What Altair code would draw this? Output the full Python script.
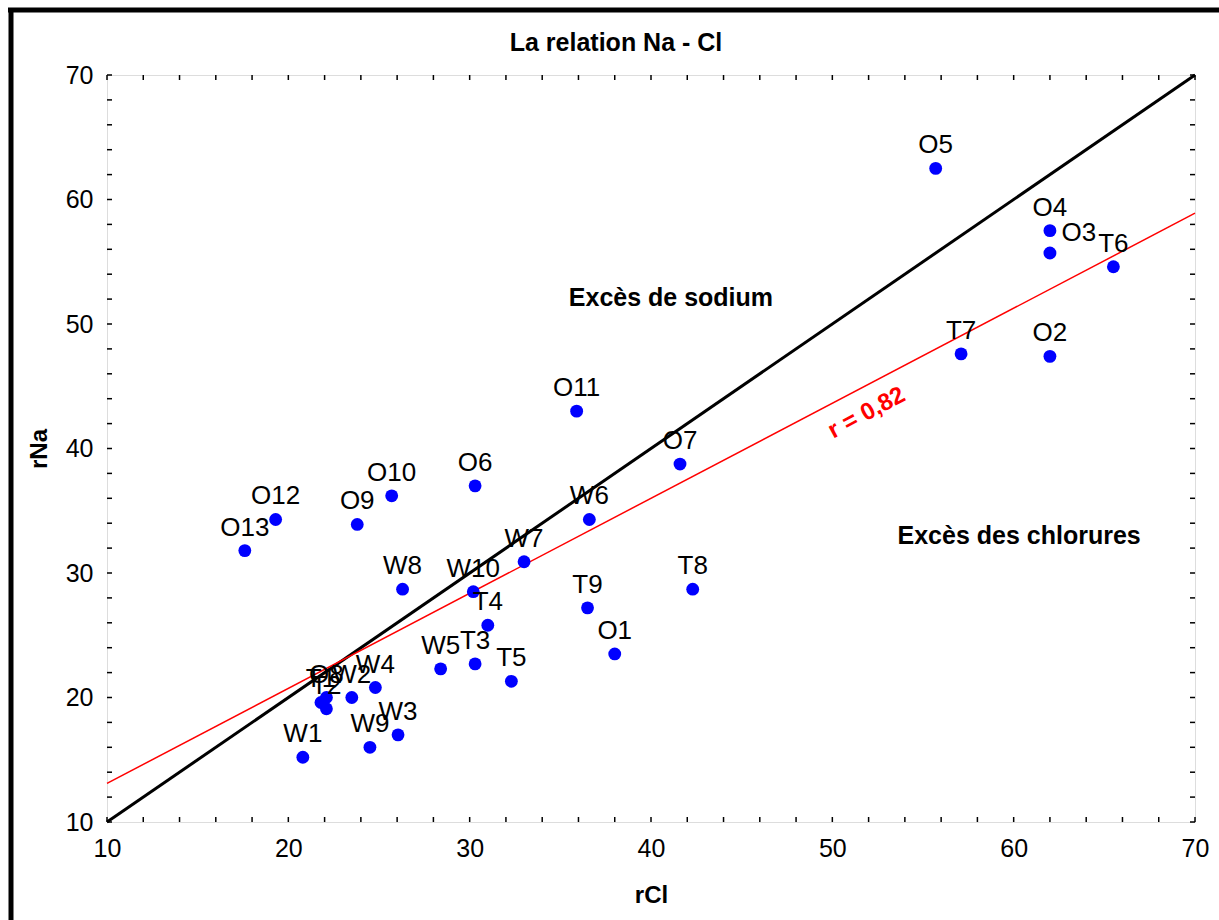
import altair as alt
import pandas as pd

# Sample identifiers and their ionic ratios (meq/l)
names = ["O1", "O2", "O3", "O4", "O5", "O6", "O7", "O8", "O9", "O10", "O11", "O12", "O13",
         "T1", "T2", "T3", "T4", "T5", "T6", "T7", "T8", "T9",
         "W1", "W2", "W3", "W4", "W5", "W6", "W7", "W8", "W9", "W10"]
r_cl = [38.0, 62.0, 62.0, 62.0, 55.7, 30.3, 41.6, 22.1, 23.8, 25.7, 35.9, 19.3, 17.6,
        21.8, 22.1, 30.3, 31.0, 32.3, 65.5, 57.1, 42.3, 36.5,
        20.8, 23.5, 26.05, 24.8, 28.4, 36.6, 33.0, 26.3, 24.5, 30.2]
r_na = [23.5, 47.4, 55.7, 57.5, 62.5, 37.0, 38.75, 20.0, 33.9, 36.2, 43.0, 34.3, 31.8,
        19.6, 19.1, 22.7, 25.8, 21.3, 54.6, 47.6, 28.7, 27.2,
        15.2, 20.0, 17.0, 20.8, 22.3, 34.3, 30.9, 28.7, 16.0, 28.5]

# Reference lines: 1:1 line and fitted regression line (end points)
line_x = [10, 70]
one_to_one_y = [10, 70]
regression_y = [13.1, 58.9]

# Axis range and ticks
axis_min, axis_max = 10, 70
label_values = [10, 20, 30, 40, 50, 60, 70]
minor_values = list(range(10, 71, 2))

W, H = 1088, 747
FONT = "Liberation Sans"

pts = pd.DataFrame({"name": names, "rCl": r_cl, "rNa": r_na})
ref = pd.DataFrame({"x": line_x, "y1": one_to_one_y, "y2": regression_y})
ticks = pd.DataFrame({"v": minor_values})

xs = alt.Scale(domain=[axis_min, axis_max], nice=False, zero=False)
ys = alt.Scale(domain=[axis_min, axis_max], nice=False, zero=False)

x_axis = alt.Axis(values=label_values, tickSize=0, domain=False, grid=False,
                  labelFontSize=25, labelFont=FONT, labelColor="black", labelPadding=14,
                  labelFlush=False,
                  title="rCl", titleFont=FONT, titleFontSize=24, titleFontWeight="bold",
                  titleColor="black", titlePadding=22)
y_axis = alt.Axis(values=label_values, tickSize=0, domain=False, grid=False,
                  labelFontSize=25, labelFont=FONT, labelColor="black", labelPadding=14,
                  labelFlush=False,
                  title="rNa", titleFont=FONT, titleFontSize=24, titleFontWeight="bold",
                  titleColor="black", titlePadding=14)

base_axes = alt.Chart(ref).mark_line(color="black", strokeWidth=3).encode(
    x=alt.X("x:Q", scale=xs, axis=x_axis),
    y=alt.Y("y1:Q", scale=ys, axis=y_axis),
)

regression = alt.Chart(ref).mark_line(color="#ff0000", strokeWidth=1.5).encode(
    x=alt.X("x:Q", scale=xs), y=alt.Y("y2:Q", scale=ys)
)

# Inward-pointing ticks on all four sides
tick_len = 5
t_top = alt.Chart(ticks).mark_rule(color="black", strokeWidth=1.5).encode(
    x=alt.X("v:Q", scale=xs), y=alt.value(0), y2=alt.value(tick_len))
t_bottom = alt.Chart(ticks).mark_rule(color="black", strokeWidth=1.5).encode(
    x=alt.X("v:Q", scale=xs), y=alt.value(H), y2=alt.value(H - tick_len))
t_left = alt.Chart(ticks).mark_rule(color="black", strokeWidth=1.5).encode(
    y=alt.Y("v:Q", scale=ys), x=alt.value(0), x2=alt.value(tick_len))
t_right = alt.Chart(ticks).mark_rule(color="black", strokeWidth=1.5).encode(
    y=alt.Y("v:Q", scale=ys), x=alt.value(W), x2=alt.value(W - tick_len))

points = alt.Chart(pts).mark_circle(color="#0000ff", opacity=1, size=165).encode(
    x=alt.X("rCl:Q", scale=xs), y=alt.Y("rNa:Q", scale=ys)
)

labels = alt.Chart(pts).transform_filter(alt.datum.name != "O3").mark_text(
    font=FONT, fontSize=26, color="black", dy=-23, baseline="middle", align="center"
).encode(x=alt.X("rCl:Q", scale=xs), y=alt.Y("rNa:Q", scale=ys), text="name:N")

label_o3 = alt.Chart(pts).transform_filter(alt.datum.name == "O3").mark_text(
    font=FONT, fontSize=26, color="black", dx=29, dy=-20, baseline="middle", align="center"
).encode(x=alt.X("rCl:Q", scale=xs), y=alt.Y("rNa:Q", scale=ys), text="name:N")

notes = pd.DataFrame({
    "x": [41.1, 60.3],
    "y": [52.1, 33.0],
    "t": ["Excès de sodium", "Excès des chlorures"],
})
note_text = alt.Chart(notes).mark_text(
    font=FONT, fontSize=25, fontWeight="bold", color="black", baseline="middle", align="center"
).encode(x=alt.X("x:Q", scale=xs), y=alt.Y("y:Q", scale=ys), text="t:N")

r_note = alt.Chart(pd.DataFrame({"x": [51.9], "y": [42.85], "t": ["r = 0,82"]})).mark_text(
    font=FONT, fontSize=24, fontWeight="bold", color="#ff0000", angle=332,
    baseline="middle", align="center"
).encode(x=alt.X("x:Q", scale=xs), y=alt.Y("y:Q", scale=ys), text="t:N")

# Chart heading, placed above the plot area
heading = alt.Chart(ticks).transform_aggregate(n="count()").mark_text(
    font=FONT, fontSize=25, fontWeight="bold", color="black", baseline="middle", align="center"
).encode(x=alt.value(W / 2 - 35), y=alt.value(-32), text=alt.value("La relation Na - Cl"))

# Outer frame (top and left edges)
frame_top = alt.Chart(ticks).transform_aggregate(n="count()").mark_rule(
    color="black", strokeWidth=5).encode(
    x=alt.value(-99), x2=alt.value(1112), y=alt.value(-65))
frame_left = alt.Chart(ticks).transform_aggregate(n="count()").mark_rule(
    color="black", strokeWidth=5).encode(
    y=alt.value(-67), y2=alt.value(845), x=alt.value(-96))

chart = alt.layer(
    base_axes, regression, t_top, t_bottom, t_left, t_right,
    points, labels, label_o3, note_text, r_note, heading, frame_top, frame_left,
).properties(
    width=W, height=H,
    padding={"left": 107, "top": 75, "right": 24, "bottom": 98},
    autosize=alt.AutoSizeParams(type="none"),
).configure_view(
    stroke="black", strokeWidth=1.5
).configure(background="white")

chart.save("out.html", embed_options={"renderer": "svg", "actions": False})
